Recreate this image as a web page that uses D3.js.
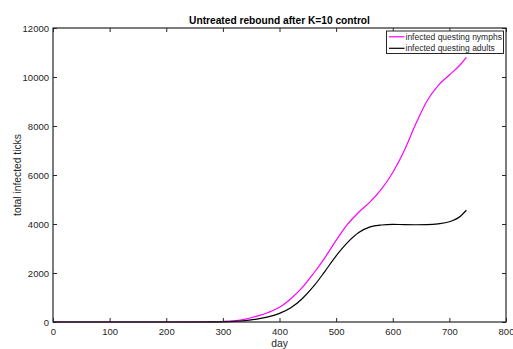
<!DOCTYPE html>
<html>
<head>
<meta charset="utf-8">
<script src="https://cdn.jsdelivr.net/npm/d3@7"></script>
<style>
  html, body { margin: 0; padding: 0; background: #fff; }
  svg { display: block; font-family: "Liberation Sans", Arial, Helvetica, sans-serif; }
</style>
</head>
<body>
<svg id="chart" width="513" height="349"></svg>
<script>
// Simulated days and infected tick totals
const days = [0, 50, 100, 150, 200, 250, 280, 300, 320, 340, 360, 380, 400, 420, 440, 460, 480, 500,
              520, 540, 560, 580, 600, 620, 640, 660, 680, 700, 720, 730];
const nymphs = [0, 0, 0, 0, 0, 2, 6, 20, 50, 120, 240, 390, 600, 950, 1400, 1980, 2620, 3330,
                3980, 4480, 4900, 5420, 6100, 6980, 8050, 9000, 9650, 10080, 10520, 10800];
const adults = [0, 0, 0, 0, 0, 0, 2, 8, 25, 60, 120, 210, 350, 580, 950, 1450, 2060, 2700,
                3240, 3650, 3880, 3960, 3985, 3975, 3970, 3975, 4005, 4090, 4330, 4560];

const xTicks = [0, 100, 200, 300, 400, 500, 600, 700, 800];
const yTicks = [0, 2000, 4000, 6000, 8000, 10000, 12000];

const seriesNames = ["infected questing nymphs", "infected questing adults"];
const seriesColors = ["#ff00ff", "#000000"];

const svg = d3.select("#chart");
const m = { left: 53, right: 506, top: 28, bottom: 322 };

const x = d3.scaleLinear().domain([0, 800]).range([m.left, m.right]);
const y = d3.scaleLinear().domain([0, 12000]).range([m.bottom, m.top]);

const axisColor = "#262626";
const tickLen = 4;

// Plot box
svg.append("rect")
  .attr("x", m.left).attr("y", m.top)
  .attr("width", m.right - m.left).attr("height", m.bottom - m.top)
  .attr("fill", "#fff");

// Data lines
const line = d3.line().curve(d3.curveMonotoneX);
const series = [nymphs, adults];
series.forEach((vals, i) => {
  svg.append("path")
    .attr("d", line(days.map((d, j) => [x(d), y(vals[j])])))
    .attr("fill", "none")
    .attr("stroke", seriesColors[i])
    .attr("stroke-width", 1.2)
    .attr("stroke-linejoin", "round");
});

// Axes (ticks pointing inward on all four sides)
function styleAxis(g) {
  g.select(".domain").remove();
  g.selectAll(".tick line").attr("stroke", axisColor).attr("stroke-width", 1);
  g.selectAll(".tick text").attr("fill", axisColor)
    .style("font-size", "9.5px")
    .style("font-family", "'Liberation Sans', Arial, Helvetica, sans-serif");
}

svg.append("g").attr("transform", `translate(0,${m.bottom})`)
  .call(d3.axisBottom(x).tickValues(xTicks).tickSizeInner(-tickLen).tickSizeOuter(0).tickPadding(6.5).tickFormat(d3.format("d")))
  .call(styleAxis);
svg.append("g").attr("transform", `translate(0,${m.top})`)
  .call(d3.axisTop(x).tickValues(xTicks).tickSizeInner(-tickLen).tickSizeOuter(0).tickFormat(""))
  .call(styleAxis);
svg.append("g").attr("transform", `translate(${m.left},0)`)
  .call(d3.axisLeft(y).tickValues(yTicks).tickSizeInner(-tickLen).tickSizeOuter(0).tickPadding(4).tickFormat(d3.format("d")))
  .call(styleAxis);
svg.append("g").attr("transform", `translate(${m.right},0)`)
  .call(d3.axisRight(y).tickValues(yTicks).tickSizeInner(-tickLen).tickSizeOuter(0).tickFormat(""))
  .call(styleAxis);

// Frame
svg.append("rect")
  .attr("x", m.left).attr("y", m.top)
  .attr("width", m.right - m.left).attr("height", m.bottom - m.top)
  .attr("fill", "none").attr("stroke", axisColor).attr("stroke-width", 1.2);

// Title and axis labels
svg.append("text")
  .attr("x", (m.left + m.right) / 2).attr("y", 23.5)
  .attr("text-anchor", "middle")
  .style("font-size", "10.2px").style("font-weight", "bold")
  .attr("fill", "#000")
  .text("Untreated rebound after K=10 control");

svg.append("text")
  .attr("x", (m.left + m.right) / 2).attr("y", 347)
  .attr("text-anchor", "middle")
  .style("font-size", "10.3px")
  .attr("fill", axisColor)
  .text("day");

svg.append("text")
  .attr("transform", `translate(21,${(m.top + m.bottom) / 2}) rotate(-90)`)
  .attr("text-anchor", "middle")
  .style("font-size", "10.3px")
  .attr("fill", axisColor)
  .text("total infected ticks");

// Legend
const lg = svg.append("g");
lg.append("rect")
  .attr("x", 386.5).attr("y", 31)
  .attr("width", 117).attr("height", 22.5)
  .attr("fill", "#fff").attr("stroke", axisColor).attr("stroke-width", 1);
seriesNames.forEach((name, i) => {
  const yy = 36.8 + i * 11.5;
  lg.append("line")
    .attr("x1", 389).attr("x2", 404.5)
    .attr("y1", yy).attr("y2", yy)
    .attr("stroke", seriesColors[i]).attr("stroke-width", 1.2);
  lg.append("text")
    .attr("x", 405.5).attr("y", yy + 3)
    .style("font-size", "8.5px")
    .attr("fill", axisColor)
    .text(name);
});
</script>
</body>
</html>
